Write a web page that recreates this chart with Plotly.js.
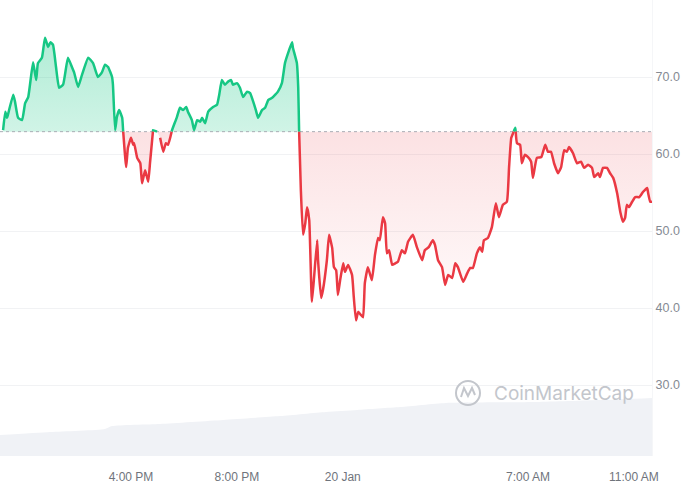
<!DOCTYPE html>
<html>
<head>
<meta charset="utf-8">
<script src="https://cdn.plot.ly/plotly-3.0.1.min.js"></script>
<style>
  html, body { margin: 0; padding: 0; background: #ffffff; }
  #chart { width: 700px; height: 499px; }
</style>
</head>
<body>
<div id="chart"></div>
<script>
// ---- DATA ----
// Price series: minutes after the start time (19 Jan, 11:10) and price (USD)
const startUTC = Date.UTC(2025, 0, 19, 11, 10);
const priceMinutes = [
  0, 5, 9, 11, 23, 27, 34, 43, 50, 57, 68, 75, 79, 88, 95, 102, 107, 113, 120, 127,
  136, 147, 156, 161, 170, 179, 193, 204, 215, 224, 231, 238, 247, 249, 254, 258, 263, 270, 272, 279,
  283, 290, 295, 297, 304, 311, 315, 322, 329, 333, 340, 349, 356, 363, 369, 374, 383, 394, 401, 408,
  415, 419, 428, 433, 440, 447, 451, 458, 465, 476, 485, 490, 496, 503, 510, 517, 521, 530, 537, 544,
  553, 560, 567, 573, 578, 587, 594, 601, 610, 617, 623, 632, 639, 646, 655, 657, 666, 669, 671, 675,
  680, 685, 689, 694, 700, 705, 712, 714, 721, 725, 734, 739, 746, 750, 755, 759, 764, 771, 775, 782,
  791, 795, 800, 805, 811, 816, 820, 827, 836, 843, 850, 854, 861, 866, 870, 875, 882, 889, 895, 904,
  911, 918, 929, 938, 950, 956, 965, 974, 979, 986, 995, 1002, 1009, 1018, 1025, 1031, 1043, 1052, 1059, 1065,
  1074, 1081, 1086, 1090, 1099, 1108, 1117, 1124, 1133, 1142, 1147, 1152, 1161, 1165, 1172, 1176, 1183, 1190, 1197, 1201,
  1210, 1220, 1229, 1235, 1242, 1249, 1258, 1265, 1272, 1278, 1283, 1292, 1301, 1310, 1317, 1326, 1335, 1340, 1349, 1353,
  1360, 1369, 1376, 1383, 1392, 1399, 1405, 1410, 1414, 1419, 1426, 1433, 1442, 1451, 1460, 1462, 1467, 1471
];
const prices = [
  63.1, 65.5, 64.7, 65.1, 67.7, 66.8, 64.7, 64.4, 66.6, 67.4, 71.9, 69.6, 71.8, 72.5, 75.1, 73.9, 74.5, 74.2, 71.3, 68.6,
  69.0, 72.5, 71.3, 70.6, 68.7, 70.3, 72.5, 71.8, 70.0, 70.6, 71.6, 71.3, 70.0, 69.0, 63.1, 64.8, 65.7, 64.7, 63.1, 58.3,
  60.8, 62.1, 61.2, 61.4, 59.5, 58.8, 56.2, 57.9, 56.4, 58.8, 63.1, 62.9, 62.1, 60.3, 61.4, 61.2, 63.1, 64.8, 66.0, 65.7,
  66.1, 65.5, 64.4, 63.1, 64.4, 64.2, 64.7, 64.0, 65.5, 66.1, 66.4, 67.7, 69.6, 69.0, 69.4, 69.6, 69.0, 69.2, 68.6, 67.4,
  68.1, 67.9, 66.8, 65.7, 64.7, 65.7, 66.0, 67.0, 67.3, 67.7, 68.1, 69.2, 71.8, 73.1, 74.5, 73.8, 71.8, 68.7, 63.1, 55.3,
  49.5, 51.0, 53.1, 51.4, 40.8, 44.0, 48.8, 46.2, 41.3, 42.3, 46.2, 49.5, 47.8, 45.3, 44.9, 41.7, 43.6, 45.8, 44.7, 45.6,
  44.3, 41.4, 38.4, 39.5, 39.1, 38.8, 43.2, 45.3, 43.6, 46.9, 49.1, 48.8, 51.8, 51.0, 47.1, 47.5, 45.6, 45.8, 46.0, 47.5,
  47.1, 48.6, 49.5, 47.9, 46.2, 47.5, 47.9, 48.8, 48.2, 46.2, 45.3, 43.0, 44.3, 43.9, 45.8, 45.3, 43.4, 44.5, 45.2, 45.2,
  47.1, 47.9, 47.3, 48.8, 49.1, 50.5, 53.6, 51.8, 53.4, 53.8, 58.3, 62.1, 63.4, 61.4, 61.2, 58.8, 59.9, 59.6, 59.0, 56.9,
  59.5, 59.6, 61.2, 60.3, 60.3, 58.8, 57.5, 58.3, 60.5, 60.3, 60.9, 60.1, 58.8, 59.0, 58.2, 58.6, 58.2, 57.0, 57.5, 57.0,
  58.2, 58.2, 57.5, 56.9, 54.9, 52.5, 51.2, 51.7, 53.4, 53.1, 53.8, 54.4, 54.4, 55.1, 55.6, 55.0, 53.8, 53.8
];
const openPrice = 62.9; // reference (opening) price, dotted line

// Volume series (millions USD), minutes after start
const volumeMinutes = [-7, 107, 231, 247, 356, 499, 628, 732, 803, 900, 1004, 1208, 1353, 1471];
const volumes = [13.8, 15.8, 17.8, 19.7, 21.1, 23.7, 26.3, 29.0, 30.3, 32.2, 34.9, 35.5, 36.8, 38.2];

// Axis ticks
const xTickTimes = [
  Date.UTC(2025, 0, 19, 16, 0), Date.UTC(2025, 0, 19, 20, 0), Date.UTC(2025, 0, 20, 0, 0),
  Date.UTC(2025, 0, 20, 7, 0), Date.UTC(2025, 0, 20, 11, 0)
];
const xTickLabels = ['4:00 PM', '8:00 PM', '20 Jan', '7:00 AM', '11:00 AM'];
const yTickValues = [30, 40, 50, 60, 70];
const yTickLabels = ['30.0', '40.0', '50.0', '60.0', '70.0'];

// ---- BUILD ----
const toTime = m => startUTC + m * 60000;
const t = priceMinutes.map(toTime);
const vt = volumeMinutes.map(toTime);
const base = openPrice;

const up = {x: [], y: []}, dn = {x: [], y: []};
const fUp = {x: [], y: []}, fDn = {x: [], y: []};
for (let i = 0; i < t.length; i++) {
  const v = prices[i];
  if (v >= base) {
    up.x.push(t[i]); up.y.push(v);
    dn.x.push(t[i]); dn.y.push(null);
    fUp.x.push(t[i]); fUp.y.push(v);
    fDn.x.push(t[i]); fDn.y.push(base);
  } else {
    dn.x.push(t[i]); dn.y.push(v);
    up.x.push(t[i]); up.y.push(null);
    fDn.x.push(t[i]); fDn.y.push(v);
    fUp.x.push(t[i]); fUp.y.push(base);
  }
  if (i < t.length - 1) {
    const a = v - base, b = prices[i + 1] - base;
    if (a * b < 0) {
      const tc = t[i] + (base - v) / (prices[i + 1] - v) * (t[i + 1] - t[i]);
      [up, dn, fUp, fDn].forEach(s => { s.x.push(tc); s.y.push(base); });
    }
  }
}
const t0 = t[0], t1 = t[t.length - 1];
fUp.x.push(t1, t0); fUp.y.push(base, base);
fDn.x.push(t1, t0); fDn.y.push(base, base);

const GREEN = '#16c784', RED = '#ea3943';

const traces = [
  {
    x: vt, y: volumes, xaxis: 'x', yaxis: 'y', type: 'scatter', mode: 'lines',
    line: {width: 0, shape: 'spline', smoothing: 0.6}, fill: 'tozeroy', fillcolor: '#f0f2f6',
    hoverinfo: 'skip', showlegend: false
  },
  {
    x: fUp.x, y: fUp.y, xaxis: 'x', yaxis: 'y2', type: 'scatter', mode: 'lines',
    line: {width: 0}, fill: 'toself',
    fillgradient: {type: 'vertical', start: base, stop: 75.5,
      colorscale: [[0, 'rgba(22,199,132,0.20)'], [1, 'rgba(22,199,132,0.34)']]},
    hoverinfo: 'skip', showlegend: false
  },
  {
    x: fDn.x, y: fDn.y, xaxis: 'x', yaxis: 'y2', type: 'scatter', mode: 'lines',
    line: {width: 0}, fill: 'toself',
    fillgradient: {type: 'vertical', start: 38, stop: base,
      colorscale: [[0, 'rgba(234,57,67,0.01)'], [1, 'rgba(234,57,67,0.15)']]},
    hoverinfo: 'skip', showlegend: false
  },
  {
    x: [t0 - 7 * 60000, t1], y: [base, base], xaxis: 'x', yaxis: 'y2', type: 'scatter', mode: 'lines',
    line: {color: '#a9adb5', width: 1, dash: 'dot'}, hoverinfo: 'skip', showlegend: false
  },
  {
    x: up.x, y: up.y, xaxis: 'x', yaxis: 'y2', type: 'scatter', mode: 'lines',
    line: {color: GREEN, width: 2.5, shape: 'spline', smoothing: 0.4}, connectgaps: false,
    hoverinfo: 'skip', showlegend: false
  },
  {
    x: dn.x, y: dn.y, xaxis: 'x', yaxis: 'y2', type: 'scatter', mode: 'lines',
    line: {color: RED, width: 2.5, shape: 'spline', smoothing: 0.4}, connectgaps: false,
    hoverinfo: 'skip', showlegend: false
  }
];

const layout = {
  width: 700, height: 499,
  margin: {l: 0, r: 48, t: 0, b: 43},
  paper_bgcolor: '#ffffff', plot_bgcolor: '#ffffff',
  showlegend: false,
  font: {family: 'Liberation Sans, Arial, sans-serif', color: '#7a7f88', size: 12},
  xaxis: {
    type: 'date', range: [t0 - 7 * 60000, t1],
    tickvals: xTickTimes, ticktext: xTickLabels,
    showgrid: false, zeroline: false, showline: false, ticks: '',
    ticklabelstandoff: 12,
    tickfont: {size: 12, color: '#6f747c'}
  },
  yaxis: {
    range: [0, 300], visible: false, fixedrange: true
  },
  yaxis2: {
    overlaying: 'y', side: 'right', range: [20.78, 80],
    tickvals: yTickValues, ticktext: yTickLabels,
    showgrid: true, gridcolor: '#f1f2f4', gridwidth: 1,
    zeroline: false, showline: true, linecolor: '#f5f6f8', ticks: '',
    ticklabelstandoff: 0,
    tickfont: {size: 12.5, color: '#858a93'}
  },
  annotations: [{
    xref: 'paper', yref: 'paper', x: 492 / 652, y: 1 - 393 / 456,
    xanchor: 'left', yanchor: 'middle', showarrow: false,
    text: 'CoinMarketCap',
    font: {family: 'Inter, Noto Sans, sans-serif', size: 19, color: '#c3c6cc'}
  }],
  shapes: [
    {type: 'circle', xref: 'paper', yref: 'paper', xsizemode: 'pixel', ysizemode: 'pixel',
     xanchor: 468 / 652, yanchor: 1 - 393 / 456, x0: -12, x1: 12, y0: -12, y1: 12,
     line: {color: '#c3c6cc', width: 2}},
    {type: 'path', xref: 'paper', yref: 'paper', xsizemode: 'pixel', ysizemode: 'pixel',
     xanchor: 468 / 652, yanchor: 1 - 393 / 456,
     path: 'M -7 -4 L -4 5 L 0 -3 L 4 5 L 7 -2',
     line: {color: '#c3c6cc', width: 2}}
  ]
};

Plotly.newPlot('chart', traces, layout, {staticPlot: true, displayModeBar: false});
</script>
</body>
</html>
